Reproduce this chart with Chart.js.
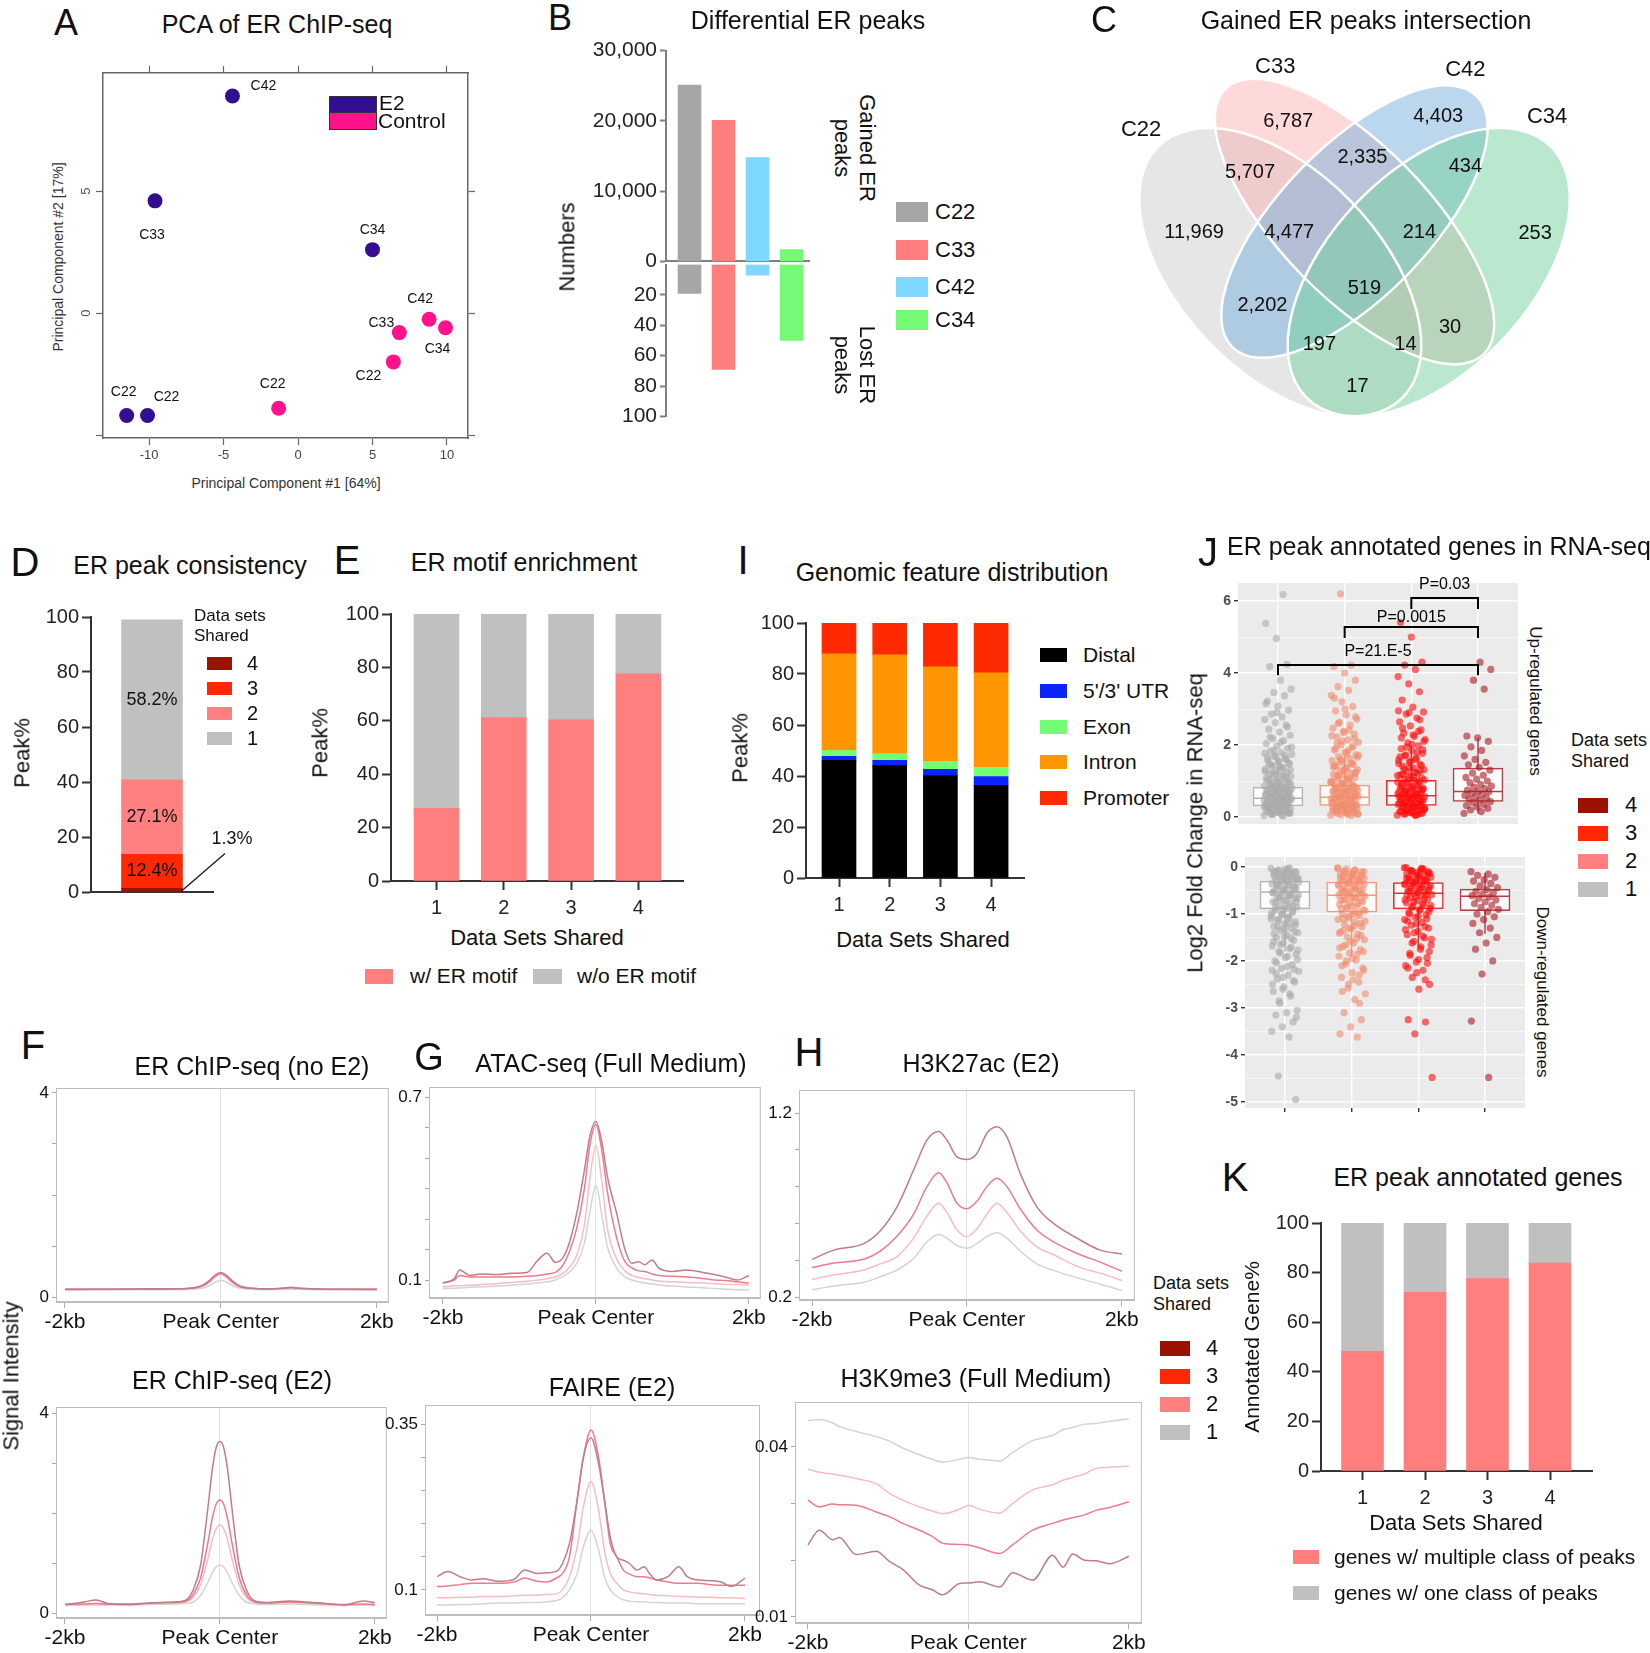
<!DOCTYPE html>
<html>
<head>
<meta charset="utf-8">
<title>ER ChIP-seq figure</title>
<script src="https://cdn.jsdelivr.net/npm/chart.js@4.4.1/dist/chart.umd.min.js"></script>
<style>
  html, body { margin: 0; padding: 0; background: #fff; }
  #page { position: relative; width: 1650px; height: 1653px; overflow: hidden;
          font-family: "Liberation Sans", Arial, sans-serif; color: #111; }
  #page canvas { position: absolute; }
  .t { position: absolute; white-space: pre; line-height: 1.15; }
  .box { position: absolute; }
</style>
</head>
<body>
<div id="page"></div>
<script>
// ---------- A: PCA ----------
const pcaNames = ["C42", "C33", "C34", "C22", "C22", "C22", "C22", "C33", "C42", "C34"];
const pcaGroup = ["E2", "E2", "E2", "E2", "E2", "Control", "Control", "Control", "Control", "Control"];
const pc1 = [-4.4, -9.6, 5.0, -11.5, -10.1, -1.3, 6.4, 6.8, 8.8, 9.9];
const pc2 = [8.9, 4.6, 2.6, -4.2, -4.2, -3.9, -2.0, -0.8, -0.25, -0.6];
const pcaXTicks = [-10, -5, 0, 5, 10];
const pcaYTicks = [-5, 0, 5];
const pcaYLabels = [0, 5];

// ---------- B: differential peaks ----------
const cellLines = ["C22", "C33", "C42", "C34"];
const gainedPeaks = [25102, 20083, 14781, 1678];
const lostPeaks = [19, 69, 7, 50];
const gainedTicks = [0, 10000, 20000, 30000];
const lostTicks = [20, 40, 60, 80, 100];

// ---------- C: venn ----------
const vennSets = ["C22", "C33", "C42", "C34"];
const vennCounts = [11969, 6787, 4403, 253, 5707, 2335, 434, 4477, 214, 519, 2202, 30, 197, 14, 17];

// ---------- D, E, I, K: stacked percentages ----------
const pctTicks = [0, 20, 40, 60, 80, 100];
const setsShared = [1, 2, 3, 4];
const sharedLevels = ["4", "3", "2", "1"];
const consistency = [1.3, 12.4, 27.1, 58.2];
const withMotif = [27.2, 61.2, 60.4, 77.6];
const withoutMotif = [72.8, 38.8, 39.6, 22.4];
const features = ["Distal", "5'/3' UTR", "Exon", "Intron", "Promoter"];
const distal = [46.1, 44.1, 40.2, 36.3];
const utr = [1.6, 2.0, 2.4, 3.5];
const exon = [2.3, 2.7, 3.1, 3.6];
const intron = [37.9, 38.7, 37.1, 37.1];
const promoter = [12.1, 12.5, 17.2, 19.5];
const multiClass = [48.3, 72.0, 77.6, 83.8];
const oneClass = [51.7, 28.0, 22.4, 16.2];

// ---------- J: RNA-seq fold change ----------
const upG1 = [0.04,0.06,0.09,0.11,0.13,0.16,0.17,0.21,0.23,0.24,0.27,0.29,0.31,0.33,0.36,0.37,0.41,0.43,0.44,0.47,0.49,0.52,0.53,0.56,0.59,0.61,0.63,0.66,0.69,0.71,0.74,0.77,0.79,0.83,0.86,0.88,0.92,0.95,0.99,1.02,1.06,1.09,1.13,1.17,1.21,1.24,1.29,1.33,1.38,1.42,1.47,1.53,1.58,1.62,1.68,1.74,1.79,1.83,1.91,1.97,2.04,2.12,2.18,2.27,2.36,2.44,2.55,2.62,2.71,2.78,2.86,2.97,3.08,3.22,3.37,3.46,3.55,3.8,4.18,4.24,4.96,5.38,6.18,
  0.07,0.12,0.19,0.26,0.34,0.39,0.46,0.51,0.57,0.64,0.68,0.73,0.81,0.87,0.93,0.97,1.04,1.11,1.19,1.27,1.35,1.44,1.5,1.56,1.65,1.71,1.86,1.94,2.08,2.22,2.5,2.9,3.15,
  0.03,0.08,0.1,0.14,0.18,0.2,0.22,0.28,0.3,0.32,0.35,0.38,0.4,0.42,0.45,0.48,0.5,0.54,0.55,0.58,0.6,0.62,0.65,0.67,0.7,0.72,0.76,0.78,0.8,0.84,0.9,0.96,1.0,1.08,1.15,1.23,1.31,1.4,1.48,1.6,1.7,1.77];
const upG2 = [0.05,0.07,0.1,0.12,0.14,0.17,0.19,0.22,0.25,0.26,0.29,0.32,0.34,0.37,0.39,0.42,0.45,0.46,0.5,0.53,0.55,0.58,0.6,0.64,0.67,0.7,0.72,0.75,0.78,0.81,0.85,0.88,0.91,0.95,0.98,1.03,1.07,1.1,1.15,1.19,1.23,1.28,1.32,1.37,1.41,1.46,1.52,1.57,1.63,1.68,1.73,1.8,1.86,1.93,2.01,2.08,2.14,2.22,2.3,2.38,2.47,2.55,2.63,2.72,2.84,2.95,3.07,3.2,3.38,3.52,3.62,3.8,4.0,4.18,4.22,6.2,
  0.08,0.13,0.2,0.28,0.35,0.43,0.48,0.57,0.62,0.69,0.77,0.83,0.9,0.97,1.05,1.13,1.21,1.3,1.39,1.48,1.55,1.66,1.77,1.9,1.97,2.11,2.26,2.42,2.6,2.78,3.0,3.3,
  0.04,0.06,0.09,0.11,0.15,0.18,0.21,0.24,0.27,0.31,0.33,0.36,0.4,0.44,0.47,0.51,0.54,0.56,0.59,0.63,0.65,0.68,0.71,0.74,0.79,0.82,0.86,0.93,1.0,1.08,1.17,1.25,1.34,1.43,1.5,1.6,1.71,1.84,2.05,2.18,2.35];
const upG3 = [0.05,0.06,0.09,0.11,0.13,0.15,0.18,0.2,0.23,0.25,0.27,0.3,0.33,0.35,0.38,0.4,0.43,0.46,0.48,0.51,0.54,0.57,0.59,0.62,0.65,0.68,0.71,0.74,0.77,0.8,0.83,0.87,0.9,0.94,0.97,1.01,1.05,1.09,1.13,1.17,1.22,1.26,1.31,1.36,1.41,1.46,1.52,1.58,1.64,1.7,1.77,1.84,1.9,1.98,2.06,2.15,2.24,2.33,2.42,2.53,2.64,2.75,2.86,2.92,3.05,3.25,3.48,3.7,3.9,4.1,4.22,4.3,5.0,5.4,
  0.07,0.14,0.21,0.29,0.36,0.44,0.5,0.56,0.63,0.7,0.76,0.85,0.92,0.99,1.07,1.15,1.24,1.33,1.43,1.55,1.67,1.8,1.94,2.1,2.28,2.47,2.7,2.9,2.95,
  0.04,0.08,0.1,0.12,0.16,0.19,0.22,0.24,0.28,0.31,0.34,0.37,0.39,0.42,0.45,0.47,0.52,0.55,0.58,0.61,0.64,0.67,0.72,0.75,0.79,0.82,0.88,0.95,1.03,1.11,1.19,1.28,1.38,1.48,1.6,1.72,1.87,2.02,2.2,2.38];
const upG4 = [0.1,0.15,0.2,0.24,0.28,0.32,0.35,0.4,0.43,0.47,0.5,0.53,0.56,0.6,0.63,0.66,0.7,0.72,0.75,0.79,0.83,0.86,0.9,0.95,1.0,1.05,1.1,1.16,1.22,1.3,1.38,1.45,1.52,1.6,1.7,1.85,1.95,2.1,2.2,2.25,3.55,3.8,4.1,4.3];
const downG1 = [-0.03,-0.05,-0.08,-0.1,-0.13,-0.15,-0.18,-0.2,-0.23,-0.26,-0.28,-0.31,-0.34,-0.36,-0.39,-0.42,-0.45,-0.47,-0.5,-0.53,-0.56,-0.59,-0.62,-0.65,-0.68,-0.71,-0.74,-0.78,-0.81,-0.85,-0.88,-0.92,-0.96,-1.0,-1.04,-1.08,-1.12,-1.17,-1.21,-1.26,-1.3,-1.35,-1.4,-1.45,-1.5,-1.56,-1.62,-1.68,-1.74,-1.8,-1.86,-1.93,-2.0,-2.08,-2.16,-2.22,-2.3,-2.38,-2.45,-2.55,-2.65,-2.75,-2.9,-3.05,-3.1,-3.15,-3.3,-3.4,-3.5,-3.62,-4.45,-4.95,
  -0.04,-0.09,-0.14,-0.19,-0.25,-0.3,-0.37,-0.43,-0.49,-0.55,-0.61,-0.67,-0.73,-0.8,-0.87,-0.94,-1.02,-1.1,-1.19,-1.28,-1.38,-1.48,-1.59,-1.71,-1.83,-1.97,-2.12,-2.27,-2.42,-2.6,-2.2,
  -0.02,-0.06,-0.11,-0.16,-0.21,-0.24,-0.29,-0.33,-0.38,-0.41,-0.46,-0.51,-0.54,-0.58,-0.63,-0.66,-0.7,-0.76,-0.83,-0.9,-0.98,-1.06,-1.14,-1.23,-1.32,-1.42,-1.52,-1.65,-1.77,-1.9,-2.04,-2.18,-2.35,-2.5,-2.7,-2.85,-3.2];
const downG2 = [-0.03,-0.06,-0.08,-0.11,-0.14,-0.16,-0.19,-0.22,-0.24,-0.27,-0.3,-0.33,-0.35,-0.38,-0.41,-0.44,-0.47,-0.5,-0.53,-0.56,-0.59,-0.62,-0.66,-0.69,-0.72,-0.76,-0.8,-0.83,-0.87,-0.91,-0.95,-0.99,-1.03,-1.08,-1.12,-1.17,-1.22,-1.27,-1.32,-1.38,-1.43,-1.49,-1.55,-1.62,-1.69,-1.76,-1.83,-1.9,-1.98,-2.06,-2.15,-2.25,-2.35,-2.45,-2.58,-2.7,-2.82,-3.1,-3.25,-3.4,-3.55,-3.62,
  -0.04,-0.1,-0.15,-0.21,-0.26,-0.32,-0.39,-0.46,-0.52,-0.58,-0.64,-0.71,-0.78,-0.85,-0.93,-1.01,-1.1,-1.2,-1.3,-1.41,-1.52,-1.66,-1.8,-1.95,-2.1,-2.3,-2.5,
  -0.02,-0.07,-0.12,-0.17,-0.2,-0.25,-0.29,-0.34,-0.37,-0.42,-0.48,-0.51,-0.55,-0.6,-0.65,-0.7,-0.74,-0.82,-0.89,-0.97,-1.05,-1.15,-1.25,-1.35,-1.46,-1.58,-1.72,-1.86,-2.0,-2.2,-2.4,-2.65,-2.9];
const downG3 = [-0.02,-0.05,-0.07,-0.1,-0.12,-0.15,-0.17,-0.2,-0.22,-0.25,-0.28,-0.3,-0.33,-0.36,-0.38,-0.41,-0.44,-0.47,-0.5,-0.53,-0.56,-0.59,-0.62,-0.65,-0.69,-0.72,-0.76,-0.8,-0.84,-0.88,-0.92,-0.97,-1.02,-1.07,-1.12,-1.18,-1.24,-1.3,-1.37,-1.44,-1.51,-1.58,-1.66,-1.75,-1.84,-1.93,-2.02,-2.1,-2.2,-2.35,-2.5,-2.6,-3.25,-3.3,-3.55,-4.48,
  -0.03,-0.08,-0.13,-0.18,-0.24,-0.29,-0.35,-0.4,-0.46,-0.52,-0.58,-0.64,-0.7,-0.78,-0.86,-0.95,-1.05,-1.15,-1.27,-1.4,-1.54,-1.7,-1.88,-2.05,-2.25,
  -0.01,-0.04,-0.09,-0.14,-0.19,-0.23,-0.27,-0.32,-0.37,-0.42,-0.45,-0.49,-0.55,-0.6,-0.67,-0.74,-0.82,-0.9,-1.0,-1.1,-1.21,-1.33,-1.47,-1.62,-1.8,-1.97,-2.15,-2.4];
const downG4 = [-0.1,-0.15,-0.18,-0.22,-0.27,-0.3,-0.35,-0.4,-0.44,-0.48,-0.52,-0.55,-0.58,-0.61,-0.64,-0.67,-0.7,-0.74,-0.78,-0.82,-0.86,-0.9,-0.95,-1.0,-1.06,-1.12,-1.2,-1.3,-1.4,-1.5,-1.62,-1.75,-2.0,-2.28,-3.28,-4.48];
const upQ1 = [0.31, 0.32, 0.32, 0.43];
const upMed = [0.52, 0.55, 0.59, 0.71];
const upQ3 = [0.83, 0.89, 1.02, 1.36];
const upLo = [0.04, 0.05, 0.05, 0.1];
const upHi = [1.6, 1.7, 2.0, 2.2];
const downQ1 = [-0.89, -0.96, -0.89, -0.93];
const downMed = [-0.53, -0.6, -0.56, -0.62];
const downQ3 = [-0.3, -0.32, -0.33, -0.47];
const downLo = [-1.8, -1.9, -1.7, -1.42];
const downHi = [-0.02, -0.02, -0.02, -0.13];
const upTicks = [0, 1, 2, 3, 4, 5, 6];
const downTicks = [-5, -4.5, -4, -3.5, -3, -2.5, -2, -1.5, -1, -0.5, 0];
const pLabels = ["P=0.03", "P=0.0015", "P=21.E-5"];
const pFrom = [3, 2, 1];
const pTo = [4, 4, 4];

// ---------- F, G, H: signal profiles (bp from peak centre) ----------
const profTicks = [-2000, 0, 2000];
const profTickText = ["-2kb", "Peak Center", "2kb"];
const erNoE2X = [-2000,-1500,-1000,-600,-400,-250,-150,-75,0,75,150,250,400,600,800,900,1000,1200,1500,2000];
const erNoE2_1 = [0.13,0.14,0.14,0.14,0.15,0.17,0.22,0.29,0.33,0.29,0.22,0.17,0.15,0.14,0.15,0.15,0.15,0.14,0.14,0.13];
const erNoE2_2 = [0.14,0.15,0.15,0.15,0.16,0.2,0.28,0.39,0.44,0.38,0.27,0.19,0.16,0.15,0.17,0.19,0.17,0.15,0.15,0.14];
const erNoE2_3 = [0.15,0.15,0.15,0.16,0.17,0.21,0.3,0.41,0.46,0.4,0.29,0.2,0.17,0.16,0.17,0.19,0.17,0.16,0.15,0.15];
const erNoE2_4 = [0.15,0.15,0.16,0.16,0.17,0.22,0.32,0.43,0.48,0.42,0.31,0.21,0.17,0.16,0.17,0.18,0.17,0.16,0.15,0.15];
const erE2X = [-2000,-1750,-1600,-1450,-1200,-900,-600,-450,-340,-250,-200,-150,-100,-50,0,50,100,150,200,250,340,450,600,900,1100,1300,1600,1850,2000];
const erE2_1 = [0.15,0.16,0.16,0.16,0.16,0.17,0.18,0.19,0.22,0.35,0.48,0.63,0.8,0.92,0.96,0.92,0.8,0.63,0.48,0.35,0.22,0.18,0.17,0.18,0.17,0.16,0.15,0.16,0.15];
const erE2_2 = [0.16,0.17,0.18,0.17,0.17,0.19,0.2,0.22,0.32,0.56,0.82,1.12,1.45,1.68,1.76,1.68,1.45,1.12,0.82,0.56,0.31,0.21,0.19,0.21,0.2,0.18,0.16,0.17,0.16];
const erE2_3 = [0.17,0.18,0.19,0.18,0.18,0.2,0.21,0.23,0.38,0.7,1.05,1.45,1.88,2.17,2.26,2.17,1.88,1.45,1.05,0.7,0.37,0.22,0.2,0.22,0.21,0.19,0.17,0.18,0.17];
const erE2_4 = [0.17,0.22,0.26,0.19,0.17,0.2,0.22,0.25,0.48,0.95,1.52,2.17,2.85,3.3,3.43,3.3,2.85,2.17,1.5,0.94,0.47,0.24,0.21,0.24,0.22,0.2,0.16,0.24,0.21];
const atacX = [-2000,-1850,-1780,-1650,-1500,-1300,-1100,-900,-760,-640,-530,-440,-350,-250,-150,-80,0,80,150,270,380,470,560,640,735,820,1000,1190,1400,1550,1690,1850,2000];
const atac_1 = [0.072,0.073,0.074,0.076,0.078,0.08,0.083,0.087,0.09,0.094,0.1,0.11,0.125,0.155,0.22,0.32,0.41,0.31,0.21,0.14,0.11,0.1,0.094,0.09,0.087,0.084,0.08,0.077,0.075,0.072,0.07,0.068,0.067];
const atac_2 = [0.078,0.08,0.081,0.083,0.085,0.088,0.092,0.096,0.1,0.104,0.11,0.12,0.14,0.18,0.28,0.43,0.54,0.42,0.27,0.17,0.13,0.115,0.108,0.104,0.1,0.097,0.094,0.092,0.09,0.088,0.086,0.085,0.084];
const atac_3 = [0.09,0.1,0.115,0.11,0.11,0.11,0.11,0.112,0.115,0.12,0.125,0.145,0.19,0.27,0.4,0.54,0.61,0.52,0.39,0.24,0.16,0.14,0.13,0.128,0.12,0.115,0.112,0.11,0.105,0.1,0.098,0.094,0.09];
const atac_4 = [0.09,0.105,0.133,0.115,0.12,0.118,0.122,0.125,0.165,0.188,0.158,0.17,0.22,0.32,0.46,0.57,0.62,0.55,0.44,0.32,0.2,0.155,0.16,0.15,0.166,0.14,0.128,0.133,0.125,0.118,0.11,0.1,0.115];
const faireX = [-2000,-1860,-1700,-1550,-1400,-1200,-1000,-860,-700,-570,-450,-370,-280,-180,-100,0,100,175,250,335,420,500,600,690,760,850,1000,1140,1250,1400,1550,1690,1820,2000];
const faire_1 = [0.077,0.077,0.078,0.078,0.079,0.08,0.08,0.081,0.081,0.082,0.084,0.088,0.1,0.125,0.165,0.19,0.16,0.12,0.1,0.09,0.085,0.083,0.082,0.082,0.081,0.081,0.08,0.08,0.08,0.079,0.079,0.079,0.079,0.079];
const faire_2 = [0.088,0.088,0.089,0.089,0.09,0.09,0.091,0.092,0.092,0.093,0.094,0.1,0.12,0.165,0.225,0.264,0.22,0.16,0.125,0.11,0.1,0.097,0.095,0.094,0.093,0.092,0.091,0.09,0.09,0.089,0.089,0.088,0.088,0.087];
const faire_3 = [0.105,0.106,0.108,0.11,0.11,0.11,0.112,0.118,0.113,0.112,0.118,0.125,0.15,0.236,0.3,0.342,0.3,0.236,0.17,0.15,0.13,0.124,0.12,0.12,0.118,0.115,0.112,0.11,0.11,0.11,0.108,0.107,0.107,0.107];
const faire_4 = [0.12,0.128,0.12,0.115,0.117,0.113,0.116,0.13,0.125,0.126,0.128,0.14,0.17,0.236,0.3,0.33,0.29,0.236,0.18,0.15,0.145,0.14,0.13,0.135,0.125,0.115,0.12,0.135,0.12,0.115,0.114,0.112,0.105,0.118];
const k27X = [-2000,-1720,-1333,-1118,-903,-688,-516,-366,-258,-129,0,129,258,387,516,688,903,1118,1462,1720,2000];
const k27_1 = [0.24,0.26,0.28,0.31,0.347,0.41,0.5,0.54,0.52,0.48,0.465,0.49,0.53,0.55,0.52,0.45,0.38,0.345,0.3,0.27,0.236];
const k27_2 = [0.296,0.32,0.347,0.38,0.42,0.52,0.64,0.71,0.66,0.565,0.528,0.57,0.65,0.71,0.66,0.56,0.473,0.43,0.36,0.33,0.29];
const k27_3 = [0.36,0.385,0.405,0.45,0.53,0.65,0.8,0.875,0.82,0.71,0.68,0.72,0.8,0.845,0.8,0.68,0.564,0.5,0.43,0.39,0.34];
const k27_4 = [0.405,0.455,0.49,0.56,0.69,0.89,1.053,1.1,1.053,0.962,0.948,0.98,1.09,1.125,1.07,0.872,0.69,0.6,0.51,0.455,0.434];
const k9X = [-2000,-1860,-1690,-1610,-1400,-1150,-985,-820,-610,-450,-320,-110,0,140,390,550,800,1050,1180,1300,1450,1590,1760,2000];
const k9_1 = [0.0446,0.0448,0.0442,0.0436,0.0427,0.0418,0.041,0.0398,0.0386,0.0378,0.0373,0.0378,0.0381,0.0378,0.0375,0.039,0.0411,0.042,0.043,0.0434,0.044,0.0441,0.0445,0.0449];
const k9_2 = [0.0361,0.0355,0.0352,0.035,0.0344,0.0335,0.0318,0.0306,0.0294,0.0287,0.0282,0.029,0.0297,0.029,0.0283,0.03,0.0324,0.0333,0.0341,0.0346,0.0352,0.0362,0.0364,0.0366];
const k9_3 = [0.0306,0.0294,0.0299,0.0298,0.0297,0.0285,0.0277,0.0265,0.0253,0.0242,0.023,0.0228,0.0227,0.0222,0.0212,0.0227,0.0253,0.0265,0.0271,0.0275,0.028,0.0288,0.0293,0.0303];
const k9_4 = [0.0227,0.0253,0.0236,0.024,0.021,0.0216,0.0198,0.0184,0.0156,0.0148,0.0139,0.0159,0.016,0.0162,0.0153,0.0178,0.0165,0.0209,0.0188,0.0211,0.02,0.0199,0.0194,0.0207];

// ---------- styles ----------
const FONT = '"Liberation Sans", Arial, sans-serif';
const sharedColors = ["#9b1200", "#ff2800", "#ff8080", "#c0c0c0"];
const lineColors = ["#a6a6a6", "#ff7f7f", "#7fd8ff", "#75fa75"];
const featureColors = ["#000000", "#0a24ff", "#72ff72", "#ff9500", "#ff2a00"];
const salmon = "#ff7f7f", grey = "#c0c0c0";
const profColors = ["#c27b88", "#ef7a8c", "#f8bcc4", "#d4d4d4"];
const jPointColors = ["rgba(170,170,170,0.6)", "rgba(242,140,110,0.6)", "rgba(255,10,10,0.6)", "rgba(170,25,35,0.6)"];
const jBoxColors = ["#b5b5b5", "#f29a80", "#e03030", "#b5404a"];

Chart.defaults.font.family = FONT;
Chart.defaults.color = "#222";
Chart.defaults.animation = false;
Chart.defaults.responsive = false;
Chart.defaults.events = [];
Chart.defaults.plugins.legend.display = false;
Chart.defaults.plugins.tooltip.enabled = false;

const page = document.getElementById("page");

function place(rect, m) {
  const c = document.createElement("canvas");
  const w = rect[2] - rect[0] + m[0] + m[2];
  const h = rect[3] - rect[1] + m[1] + m[3];
  c.width = w;
  c.height = h;
  c.style.left = (rect[0] - m[0]) + "px";
  c.style.top = (rect[1] - m[1]) + "px";
  page.appendChild(c);
  return c.getContext("2d");
}

function text(str, x, y, size, o) {
  o = o || {};
  const d = document.createElement("div");
  d.className = "t";
  d.textContent = str;
  d.style.left = x + "px";
  d.style.top = y + "px";
  d.style.fontSize = size + "px";
  if (o.color) d.style.color = o.color;
  d.style.textAlign = o.left ? "left" : "center";
  d.style.transform = "translate(" + (o.left ? "0" : "-50%") + ",-50%)" + (o.rot ? " rotate(" + o.rot + "deg)" : "");
  page.appendChild(d);
}

function swatch(x, y, w, h, color, border) {
  const d = document.createElement("div");
  d.className = "box";
  Object.assign(d.style, { left: x + "px", top: (y - h / 2) + "px", width: w + "px", height: h + "px", background: color });
  if (border) d.style.border = border;
  page.appendChild(d);
}

const fixTicks = vals => s => { s.ticks = vals.map(v => ({ value: v })); };

// ---------- A ----------
const pcaLabelDx = [31, -3, 0, -3, 19, -6, -25, -18, -9, -8];
const pcaLabelDy = [-10, 34, -20, -23, -18, -24, 14, -9, -20, 21];
const pcaPlugin = {
  id: "pcaLabels",
  afterDatasetsDraw(chart) {
    const { ctx, scales: { x, y }, chartArea } = chart;
    ctx.save();
    ctx.font = "14px " + FONT;
    ctx.fillStyle = "#111";
    ctx.textAlign = "center";
    ctx.textBaseline = "middle";
    pcaNames.forEach((n, i) => {
      ctx.fillText(n, x.getPixelForValue(pc1[i]) + pcaLabelDx[i], y.getPixelForValue(pc2[i]) + pcaLabelDy[i]);
    });
    ctx.font = "13px " + FONT;
    ctx.fillStyle = "#555";
    pcaYLabels.forEach(v => {
      ctx.save();
      ctx.translate(chartArea.left - 17, y.getPixelForValue(v));
      ctx.rotate(-Math.PI / 2);
      ctx.fillText(String(v), 0, 0);
      ctx.restore();
    });
    ctx.restore();
  }
};
{
  const rect = [103, 73, 468, 438], m = [30, 10, 10, 32];
  const frame = { color: "#666", width: 1.5 };
  const tickGrid = { drawOnChartArea: false, tickLength: 7, tickColor: "#666", tickWidth: 1.2 };
  const xr = { min: -13.09, max: 11.41 }, yr = { min: -5.12, max: 9.84 };
  new Chart(place(rect, m), {
    type: "scatter",
    data: {
      datasets: ["E2", "Control"].map((g, k) => ({
        label: g,
        data: pc1.map((v, i) => ({ x: v, y: pc2[i], g: pcaGroup[i] })).filter(p => p.g === g),
        backgroundColor: k === 0 ? "#330e90" : "#ff128c",
        borderWidth: 0,
        pointRadius: 7.5
      }))
    },
    options: {
      layout: { padding: 0 },
      scales: {
        x: Object.assign({ type: "linear", position: "bottom", afterBuildTicks: fixTicks(pcaXTicks),
          afterFit: s => { s.height = m[3]; }, ticks: { color: "#444", font: { size: 13 }, padding: 3 },
          grid: tickGrid, border: frame }, xr),
        x2: Object.assign({ type: "linear", position: "top", afterBuildTicks: fixTicks(pcaXTicks),
          afterFit: s => { s.height = m[1]; }, ticks: { display: false }, grid: tickGrid, border: frame }, xr),
        y: Object.assign({ type: "linear", position: "left", afterBuildTicks: fixTicks(pcaYTicks),
          afterFit: s => { s.width = m[0]; }, ticks: { display: false }, grid: tickGrid, border: frame }, yr),
        y2: Object.assign({ type: "linear", position: "right", afterBuildTicks: fixTicks(pcaYTicks),
          afterFit: s => { s.width = m[2]; }, ticks: { display: false }, grid: tickGrid, border: frame }, yr)
      }
    },
    plugins: [pcaPlugin]
  });
}

// ---------- B ----------
{
  const bAxis = { color: "#808080", width: 2 };
  const bTickGrid = { drawOnChartArea: false, tickLength: 6, tickColor: "#808080", tickWidth: 2 };
  const mTop = [90, 14, 5, 14];
  new Chart(place([666, 49, 809, 263], mTop), {
    type: "bar",
    data: { datasets: [{ data: gainedPeaks.map((v, i) => ({ x: i + 1, y: v })), backgroundColor: lineColors, barThickness: 23 }] },
    options: {
      layout: { padding: { top: mTop[1], right: mTop[2], left: 0, bottom: 0 } },
      scales: {
        x: { type: "linear", min: 0.309, max: 4.51, offset: false, afterFit: s => { s.height = mTop[3]; },
             ticks: { display: false }, grid: { drawOnChartArea: false, drawTicks: false, offset: false }, border: bAxis },
        y: { min: 0, max: 30000, afterBuildTicks: fixTicks(gainedTicks), afterFit: s => { s.width = mTop[0]; },
             ticks: { font: { size: 21 }, color: "#222", padding: 3, callback: v => v.toLocaleString("en-US") },
             grid: bTickGrid, border: bAxis }
      }
    }
  });
  const mBot = [90, 14, 5, 14];
  new Chart(place([666, 263, 809, 418], mBot), {
    type: "bar",
    data: { datasets: [{ data: lostPeaks.map((v, i) => ({ x: i + 1, y: v })), backgroundColor: lineColors, barThickness: 23 }] },
    options: {
      layout: { padding: { top: mBot[1], right: mBot[2], left: 0, bottom: mBot[3] } },
      scales: {
        x: { type: "linear", display: false, min: 0.309, max: 4.51, offset: false },
        y: { min: 0, max: 100, reverse: true, afterBuildTicks: fixTicks(lostTicks), afterFit: s => { s.width = mBot[0]; },
             ticks: { font: { size: 21 }, color: "#222", padding: 3 }, grid: bTickGrid, border: bAxis }
      }
    }
  });
}

// ---------- C ----------
const vennCx = [0.35, 0.5, 0.5, 0.65];
const vennCy = [0.47, 0.57, 0.57, 0.47];
const vennA = [0.35, 0.37, 0.35, 0.35];
const vennB = [0.2, 0.15, 0.15, 0.2];
const vennRot = [135, 135, 45, 45];
const vennFill = ["rgba(200,200,200,0.45)", "rgba(250,170,170,0.45)", "rgba(120,175,220,0.5)", "rgba(115,210,160,0.5)"];
const vennSetX = [0.069, 0.34, 0.724, 0.889];
const vennSetY = [0.752, 0.876, 0.87, 0.776];
const vennNumX = [0.176, 0.366, 0.669, 0.865, 0.289, 0.516, 0.724, 0.368, 0.631, 0.52, 0.314, 0.693, 0.429, 0.603, 0.506];
const vennNumY = [0.548, 0.768, 0.778, 0.546, 0.667, 0.697, 0.679, 0.548, 0.548, 0.438, 0.404, 0.361, 0.327, 0.327, 0.244];
const vennPlugin = {
  id: "venn",
  afterDraw(chart) {
    const { ctx, scales: { x, y } } = chart;
    const sx = x.getPixelForValue(1) - x.getPixelForValue(0);
    const sy = y.getPixelForValue(0) - y.getPixelForValue(1);
    const path = i => {
      ctx.save();
      ctx.translate(x.getPixelForValue(vennCx[i]), y.getPixelForValue(vennCy[i]));
      ctx.scale(sx, -sy);
      ctx.rotate(vennRot[i] * Math.PI / 180);
      ctx.beginPath();
      ctx.ellipse(0, 0, vennA[i], vennB[i], 0, 0, 2 * Math.PI);
      ctx.restore();
    };
    ctx.save();
    vennSets.forEach((s, i) => { path(i); ctx.fillStyle = vennFill[i]; ctx.fill(); });
    vennSets.forEach((s, i) => { path(i); ctx.strokeStyle = "#fff"; ctx.lineWidth = 2.5; ctx.stroke(); });
    ctx.fillStyle = "#111";
    ctx.textAlign = "center";
    ctx.textBaseline = "middle";
    ctx.font = "22px " + FONT;
    vennSets.forEach((s, i) => ctx.fillText(s, x.getPixelForValue(vennSetX[i]), y.getPixelForValue(vennSetY[i])));
    ctx.font = "20px " + FONT;
    vennCounts.forEach((c, i) => ctx.fillText(c.toLocaleString("en-US"), x.getPixelForValue(vennNumX[i]), y.getPixelForValue(vennNumY[i])));
    ctx.restore();
  }
};
new Chart(place([1107, 4, 1602, 510], [0, 0, 0, 0]), {
  type: "scatter",
  data: { datasets: [] },
  options: {
    layout: { padding: 0 },
    scales: { x: { display: false, min: 0, max: 1 }, y: { display: false, min: 0, max: 1 } }
  },
  plugins: [vennPlugin]
});

// ---------- prism-style stacked bars ----------
function prismY(w) {
  return {
    stacked: true, min: 0, max: 100, afterBuildTicks: fixTicks(pctTicks), afterFit: s => { s.width = w; },
    ticks: { font: { size: 20 }, color: "#222", padding: 3 },
    grid: { drawOnChartArea: false, tickLength: 9, tickWidth: 2, tickColor: "#333" },
    border: { color: "#333", width: 2 }
  };
}
function prismX(min, max, h) {
  return {
    type: "linear", stacked: true, min: min, max: max, offset: false,
    afterBuildTicks: fixTicks(setsShared), afterFit: s => { s.height = h; },
    ticks: { font: { size: 20 }, color: "#222", padding: 6 },
    grid: { drawOnChartArea: false, offset: false, tickLength: 9, tickWidth: 2, tickColor: "#333" },
    border: { color: "#333", width: 2 }
  };
}
function prismBars(rect, xMin, xMax, width, series, colors, labels) {
  const m = [70, 14, 6, 40];
  new Chart(place(rect, m), {
    type: "bar",
    data: {
      datasets: series.map((vals, k) => ({
        label: labels[k],
        data: setsShared.map((s, i) => ({ x: s, y: vals[i] })),
        backgroundColor: colors[k],
        barThickness: width
      }))
    },
    options: {
      layout: { padding: { top: m[1], right: m[2], left: 0, bottom: 0 } },
      scales: { x: prismX(xMin, xMax, m[3]), y: prismY(m[0]) }
    }
  });
}

// ---------- D ----------
const dLabels = {
  id: "dLabels",
  afterDatasetsDraw(chart) {
    const ctx = chart.ctx;
    ctx.save();
    ctx.font = "18px " + FONT;
    ctx.fillStyle = "#111";
    ctx.textAlign = "center";
    ctx.textBaseline = "middle";
    consistency.forEach((v, i) => {
      const el = chart.getDatasetMeta(i).data[0];
      const label = v.toFixed(1) + "%";
      if (v > 5) {
        ctx.fillText(label, el.x, (el.y + el.base) / 2);
      } else {
        ctx.strokeStyle = "#111";
        ctx.lineWidth = 1.2;
        ctx.beginPath();
        ctx.moveTo(el.x + 29, el.base);
        ctx.lineTo(el.x + 73, el.base - 38);
        ctx.stroke();
        ctx.fillText(label, el.x + 80, el.base - 52);
      }
    });
    ctx.restore();
  }
};
{
  const m = [70, 14, 60, 12];
  new Chart(place([91, 616, 213, 895], m), {
    type: "bar",
    data: {
      datasets: sharedLevels.map((lv, i) => ({
        label: lv, data: [{ x: 1, y: consistency[i] }], backgroundColor: sharedColors[i], barThickness: 61
      }))
    },
    options: {
      layout: { padding: { top: m[1], right: m[2], left: 0, bottom: 0 } },
      scales: {
        x: { type: "linear", stacked: true, min: 0, max: 2, offset: false, afterFit: s => { s.height = m[3]; },
             ticks: { display: false }, grid: { drawOnChartArea: false, drawTicks: false, offset: false },
             border: { color: "#333", width: 2 } },
        y: prismY(m[0])
      }
    },
    plugins: [dLabels]
  });
}

// ---------- E, I, K ----------
prismBars([391, 613, 683, 881], 0.324, 4.663, 45, [withMotif, withoutMotif], [salmon, grey], ["w/ ER motif", "w/o ER motif"]);
prismBars([806, 622, 1024, 878], 0.349, 4.649, 34, [distal, utr, exon, intron, promoter], featureColors, features);
prismBars([1321, 1222, 1592, 1471], 0.336, 4.672, 42, [multiClass, oneClass], [salmon, grey],
  ["genes w/ multiple class of peaks", "genes w/ one class of peaks"]);

// ---------- J ----------
const jitter = (g, i) => g + (((i * 0.6180339887) % 1) - 0.5) * 0.42;
const jBackground = {
  id: "jBackground",
  beforeDraw(chart) {
    const { ctx, chartArea: a } = chart;
    ctx.save();
    ctx.fillStyle = "#ebebeb";
    ctx.fillRect(a.left, a.top, a.right - a.left, a.bottom - a.top);
    ctx.restore();
  }
};
function boxLines(st) {
  return {
    id: "boxLines",
    afterDatasetDraw(chart, args) {
      if (args.index !== 0) return;
      const { ctx, scales: { x, y } } = chart;
      ctx.save();
      ctx.lineWidth = 1.5;
      setsShared.forEach((s, i) => {
        const px = x.getPixelForValue(s);
        ctx.strokeStyle = jBoxColors[i];
        ctx.beginPath();
        ctx.moveTo(px - 25, y.getPixelForValue(st[1][i]));
        ctx.lineTo(px + 25, y.getPixelForValue(st[1][i]));
        ctx.moveTo(px, y.getPixelForValue(st[2][i]));
        ctx.lineTo(px, y.getPixelForValue(st[4][i]));
        ctx.moveTo(px, y.getPixelForValue(st[0][i]));
        ctx.lineTo(px, y.getPixelForValue(st[3][i]));
        ctx.stroke();
      });
      ctx.restore();
    }
  };
}
const pBarY = [6.08, 5.28, 4.22];
const pDropY = [5.78, 4.97, 3.94];
const pTextX = [3.5, 3.0, 2.5];
const pTextY = [6.45, 5.53, 4.6];
const brackets = {
  id: "brackets",
  afterDatasetsDraw(chart) {
    const { ctx, scales: { x, y } } = chart;
    ctx.save();
    ctx.strokeStyle = "#000";
    ctx.lineWidth = 2;
    ctx.fillStyle = "#000";
    ctx.font = "16px " + FONT;
    ctx.textAlign = "center";
    ctx.textBaseline = "middle";
    pLabels.forEach((p, i) => {
      const x0 = x.getPixelForValue(pFrom[i]), x1 = x.getPixelForValue(pTo[i]);
      const yb = y.getPixelForValue(pBarY[i]), yd = y.getPixelForValue(pDropY[i]);
      ctx.beginPath();
      ctx.moveTo(x0, yd);
      ctx.lineTo(x0, yb);
      ctx.lineTo(x1, yb);
      ctx.lineTo(x1, yd);
      ctx.stroke();
      ctx.fillText(p, x.getPixelForValue(pTextX[i]), y.getPixelForValue(pTextY[i]));
    });
    ctx.restore();
  }
};
function jPanel(rect, m, groups, st, yMin, yMax, yTicks, major, showXTicks, extra) {
  new Chart(place(rect, m), {
    type: "scatter",
    data: {
      datasets: [{
        type: "bar",
        data: setsShared.map((s, i) => ({ x: s, y: [st[0][i], st[2][i]] })),
        backgroundColor: "rgba(255,255,255,0.85)", borderColor: jBoxColors, borderWidth: 1.5,
        borderSkipped: false, barThickness: 50, order: 2
      }].concat(groups.map((vals, g) => ({
        data: vals.map((v, i) => ({ x: jitter(g + 1, i), y: v })),
        backgroundColor: jPointColors[g], borderWidth: 0, pointRadius: 3.6, order: 1
      })))
    },
    options: {
      layout: { padding: { top: m[1], right: m[2], left: 0, bottom: 0 } },
      scales: {
        x: { type: "linear", min: 0.4, max: 4.6, offset: false, afterBuildTicks: fixTicks(setsShared),
             afterFit: s => { s.height = m[3]; }, ticks: { display: false },
             grid: { color: "#fff", lineWidth: 1.4, offset: false, drawTicks: showXTicks, tickLength: 4, tickColor: "#333" },
             border: { display: false } },
        y: { type: "linear", min: yMin, max: yMax, afterBuildTicks: fixTicks(yTicks), afterFit: s => { s.width = m[0]; },
             ticks: { color: "#4d4d4d", font: { size: 14, weight: "bold" }, padding: 3, callback: v => major(v) ? String(v) : "" },
             grid: { color: "#fff", lineWidth: c => major(c.tick.value) ? 1.4 : 0.6, tickLength: 4,
                     tickColor: c => major(c.tick.value) ? "#333" : "rgba(0,0,0,0)" },
             border: { display: false } }
      }
    },
    plugins: [jBackground, boxLines(st)].concat(extra)
  });
}
jPanel([1238, 583, 1520, 824], [40, 12, 2, 12], [upG1, upG2, upG3, upG4], [upQ1, upMed, upQ3, upLo, upHi],
  -0.194, 6.5, upTicks, v => v % 2 === 0, false, [brackets]);
jPanel([1245, 857, 1527, 1108], [40, 12, 2, 12], [downG1, downG2, downG3, downG4], [downQ1, downMed, downQ3, downLo, downHi],
  -5.13, 0.213, downTicks, v => Number.isInteger(v), true, []);

// ---------- F, G, H ----------
const frame = {
  id: "frame",
  afterDraw(chart) {
    const { ctx, chartArea: a } = chart;
    ctx.save();
    ctx.strokeStyle = "#bdbdbd";
    ctx.lineWidth = 1;
    ctx.strokeRect(a.left + 0.5, a.top + 0.5, a.right - a.left - 1, a.bottom - a.top - 1);
    ctx.restore();
  }
};
function profile(rect, xMin, xMax, yMin, yMax, xs, series, yTicks, yLab) {
  const m = [48, 14, 6, 36];
  new Chart(place(rect, m), {
    type: "line",
    data: {
      datasets: series.map((ys, k) => ({
        data: xs.map((x, i) => ({ x: x, y: ys[i] })),
        borderColor: profColors[k], borderWidth: 1.5, pointRadius: 0,
        cubicInterpolationMode: "monotone", fill: false
      }))
    },
    options: {
      layout: { padding: { top: m[1], right: m[2], left: 0, bottom: 0 } },
      scales: {
        x: { type: "linear", min: xMin, max: xMax, afterBuildTicks: fixTicks(profTicks), afterFit: s => { s.height = m[3]; },
             ticks: { font: { size: 21 }, color: "#111", padding: 2, autoSkip: false, maxRotation: 0,
                      callback: (v, i) => profTickText[i] },
             grid: { color: c => c.tick && c.tick.value === 0 ? "#e3e3e3" : "rgba(0,0,0,0)", tickLength: 6, tickColor: "#aaa" },
             border: { color: "#bdbdbd", width: 1 } },
        y: { type: "linear", min: yMin, max: yMax, afterBuildTicks: fixTicks(yTicks), afterFit: s => { s.width = m[0]; },
             ticks: { font: { size: 17 }, color: "#111", padding: 3,
                      callback: (v, i, arr) => i === 0 ? yLab[0] : (i === arr.length - 1 ? yLab[1] : "") },
             grid: { drawOnChartArea: false, tickLength: 4, tickColor: "#aaa" },
             border: { color: "#bdbdbd", width: 1 } }
      }
    },
    plugins: [frame]
  });
}
profile([56, 1088, 390, 1302], -2115, 2153, -0.098, 4.098, erNoE2X, [erNoE2_4, erNoE2_3, erNoE2_2, erNoE2_1], [0, 1, 2, 3, 4], ["0", "4"]);
profile([56, 1407, 388, 1618], -2116, 2154, -0.1, 4.12, erE2X, [erE2_4, erE2_3, erE2_2, erE2_1], [0, 1, 2, 3, 4], ["0", "4"]);
profile([429, 1087, 762, 1298], -2182, 2156, 0.041, 0.733, atacX, [atac_4, atac_3, atac_2, atac_1], [0.1, 0.2, 0.3, 0.4, 0.5, 0.6, 0.7], ["0.1", "0.7"]);
profile([425, 1405, 760, 1615], -2156, 2195, 0.062, 0.38, faireX, [faire_4, faire_3, faire_2, faire_1], [0.1, 0.15, 0.2, 0.25, 0.3, 0.35], ["0.1", "0.35"]);
profile([799, 1090, 1135, 1300], -2168, 2168, 0.184, 1.325, k27X, [k27_4, k27_3, k27_2, k27_1], [0.2, 0.4, 0.6, 0.8, 1.0, 1.2], ["0.2", "1.2"]);
profile([795, 1402, 1142, 1623], -2162, 2162, 0.00894, 0.0479, k9X, [k9_4, k9_3, k9_2, k9_1], [0.01, 0.02, 0.03, 0.04], ["0.01", "0.04"]);

// ---------- text: panel letters, titles, axis titles, legends ----------
text("A", 66, 23, 36); text("B", 560, 18, 36); text("C", 1104, 20, 36);
text("D", 25, 562, 40); text("E", 347, 560, 40); text("I", 743, 560, 40); text("J", 1208, 552, 40);
text("F", 33, 1045, 40); text("G", 429, 1058, 38); text("H", 809, 1052, 40); text("K", 1235, 1177, 40);

text("PCA of ER ChIP-seq", 277, 24, 25);
text("Differential ER peaks", 808, 20, 25);
text("Gained ER peaks intersection", 1366, 20, 25);
text("ER peak consistency", 190, 565, 25);
text("ER motif enrichment", 524, 562, 25);
text("Genomic feature distribution", 952, 572, 25);
text("ER peak annotated genes in RNA-seq", 1227, 546, 25, { left: true });
text("ER ChIP-seq (no E2)", 252, 1066, 25);
text("ATAC-seq (Full Medium)", 611, 1063, 25);
text("H3K27ac (E2)", 981, 1063, 25);
text("ER ChIP-seq (E2)", 232, 1380, 25);
text("FAIRE (E2)", 612, 1387, 25);
text("H3K9me3 (Full Medium)", 976, 1378, 25);
text("ER peak annotated genes", 1478, 1177, 25);

text("Principal Component #1 [64%]", 286, 483, 14, { color: "#333" });
text("Principal Component #2 [17%]", 58, 257, 14, { color: "#333", rot: -90 });
text("Numbers", 567, 247, 22, { rot: -90 });
text("Gained ER\npeaks", 855, 148, 22, { rot: 90 });
text("Lost ER\npeaks", 855, 365, 22, { rot: 90 });
text("Peak%", 22, 753, 22, { rot: -90 });
text("Peak%", 320, 743, 22, { rot: -90 });
text("Data Sets Shared", 537, 938, 22);
text("Peak%", 740, 748, 22, { rot: -90 });
text("Data Sets Shared", 923, 940, 22);
text("Log2 Fold Change in RNA-seq", 1195, 823, 22, { rot: -90 });
text("Up-regulated genes", 1535, 701, 17, { rot: 90 });
text("Down-regulated genes", 1542, 992, 17, { rot: 90 });
text("Signal Intensity", 11, 1376, 22, { rot: -90 });
text("Annotated Gene%", 1252, 1347, 21, { rot: -90 });
text("Data Sets Shared", 1456, 1523, 22);

// A legend
swatch(329, 104, 46, 16, "#330e90", "1px solid #333");
swatch(329, 120, 46, 16, "#ff128c", "1px solid #333");
text("E2", 379, 103, 21, { left: true });
text("Control", 378, 121, 21, { left: true });

// B legend
[212, 250, 287, 320].forEach((yc, i) => {
  swatch(896, yc, 32, 20, lineColors[i]);
  text(cellLines[i], 935, yc, 22, { left: true });
});

// D / J / F-H "Data sets Shared" legends
text("Data sets\nShared", 194, 626, 17, { left: true });
[663, 688, 713, 738].forEach((yc, i) => { swatch(207, yc, 25, 13, sharedColors[i]); text(sharedLevels[i], 247, yc, 20, { left: true }); });
text("Data sets\nShared", 1571, 751, 18, { left: true });
[805, 833, 861, 889].forEach((yc, i) => { swatch(1578, yc, 30, 15, sharedColors[i]); text(sharedLevels[i], 1625, yc, 22, { left: true }); });
text("Data sets\nShared", 1153, 1294, 18, { left: true });
[1348, 1376, 1404, 1432].forEach((yc, i) => { swatch(1160, yc, 30, 15, sharedColors[i]); text(sharedLevels[i], 1206, yc, 22, { left: true }); });

// E legend
swatch(365, 976, 28, 15, salmon); text("w/ ER motif", 410, 976, 21, { left: true });
swatch(533, 976, 29, 15, grey); text("w/o ER motif", 577, 976, 21, { left: true });

// I legend
[655, 691, 727, 762, 798].forEach((yc, i) => { swatch(1040, yc, 27, 14, featureColors[i]); text(features[i], 1083, yc, 21, { left: true }); });

// K legend
swatch(1293, 1557, 26, 14, salmon); text("genes w/ multiple class of peaks", 1334, 1557, 21, { left: true });
swatch(1293, 1593, 26, 14, grey); text("genes w/ one class of peaks", 1334, 1593, 21, { left: true });
</script>
</body>
</html>
